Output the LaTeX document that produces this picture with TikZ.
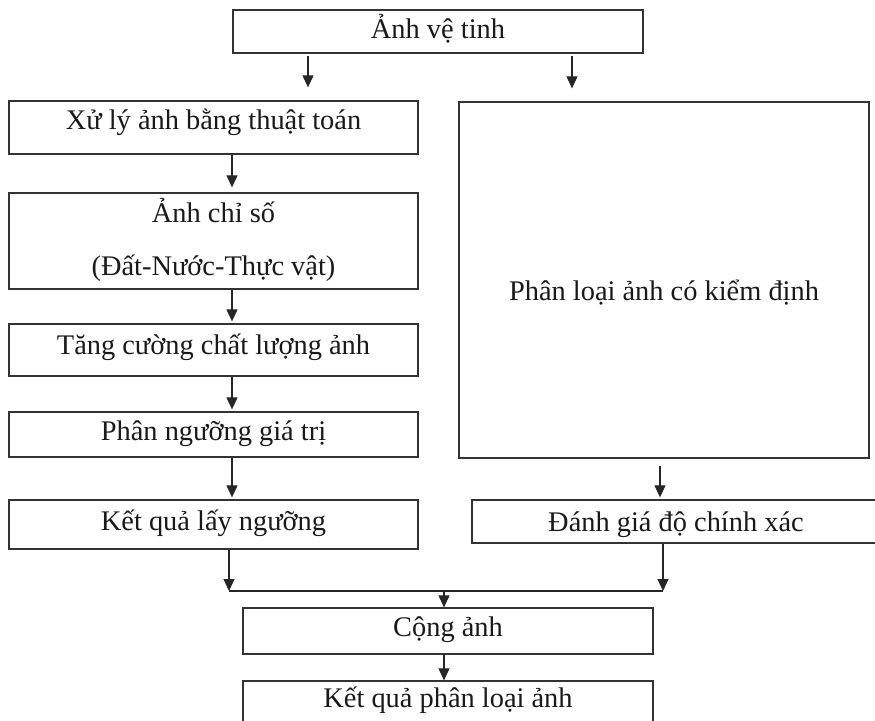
\documentclass[tikz,border=0pt]{standalone}
\usepackage{fontspec}
\setmainfont{Liberation Serif}
\usetikzlibrary{arrows.meta}
\tikzset{
  box/.style={draw=black!80, line width=1.3pt, rectangle, inner sep=0pt,
    font=\fontsize{28.4}{31}\selectfont, text=black!90,
    text height=19pt, text depth=6pt},
  arr/.style={draw=black!85, line width=1.1pt, -{Triangle[length=12pt,width=11pt]}},
  link/.style={draw=black!85, line width=1.1pt}
}
\begin{document}
\begin{tikzpicture}[x=1pt, y=-1pt]
\useasboundingbox (0,0) rectangle (875,720);
% boxes
\node[box, minimum width=410pt, minimum height=43pt, text depth=6pt] (top) at (438,31.5) {Ảnh vệ tinh};
\node[box, minimum width=409pt, minimum height=53pt, text depth=14.5pt] (xl) at (213.5,127.5) {Xử lý ảnh bằng thuật toán};
\node[box, minimum width=410pt, minimum height=356pt] (big) at (664,280) {\raisebox{-13.5pt}{Phân loại ảnh có kiểm định}};
\node[box, minimum width=409pt, minimum height=96pt, align=center,
      font=\fontsize{28.4}{53}\selectfont, text height=72pt, text depth=4pt] (chiso) at (213.5,241) {Ảnh chỉ số\\(Đất-Nước-Thực vật)};
\node[box, minimum width=409pt, minimum height=52pt, text depth=11pt] (tang) at (213.5,350) {Tăng cường chất lượng ảnh};
\node[box, minimum width=409pt, minimum height=45pt, text depth=6.6pt] (phan) at (213.5,434.5) {Phân ngưỡng giá trị};
\node[box, minimum width=409pt, minimum height=49pt, text depth=8pt] (kq) at (213.5,524.5) {Kết quả lấy ngưỡng};
\node[box, minimum width=428pt, minimum height=43pt, text depth=0pt] (danh) at (686,521.5) {\hspace*{-20pt}Đánh giá độ chính xác};
\node[box, minimum width=410pt, minimum height=46pt, text depth=7.6pt] (cong) at (448,631) {Cộng ảnh};
\node[box, minimum width=410pt, minimum height=44pt, text depth=11pt] (final) at (448,703) {Kết quả phân loại ảnh};
% helper coordinates
\coordinate (cA) at (308,0);
\coordinate (cB) at (572,0);
\coordinate (cL) at (232,0);
\coordinate (cR) at (660,0);
\coordinate (jL) at (229,591);
\coordinate (jR) at (663,591);
\coordinate (jM) at (444,591);
% connectors
\draw[arr, shorten <=2pt, shorten >=13pt] (top.south -| cA) -- (xl.north -| cA);
\draw[arr, shorten <=2pt, shorten >=13pt] (top.south -| cB) -- (big.north -| cB);
\draw[arr, shorten >=5pt] (xl.south -| cL) -- (chiso.north -| cL);
\draw[arr, shorten >=2pt] (chiso.south -| cL) -- (tang.north -| cL);
\draw[arr, shorten >=2pt] (tang.south -| cL) -- (phan.north -| cL);
\draw[arr, shorten >=2pt] (phan.south -| cL) -- (kq.north -| cL);
\draw[arr, shorten <=7pt, shorten >=2pt] (big.south -| cR) -- (danh.north -| cR);
\draw[link] (jL) -- (jR);
\draw[arr] (kq.south -| jL) -- (jL);
\draw[arr] (danh.south -| jR) -- (jR);
\draw[arr] (jM) -- (cong.north -| jM);
\draw[arr] (cong.south -| jM) -- (final.north -| jM);
\end{tikzpicture}
\end{document}
